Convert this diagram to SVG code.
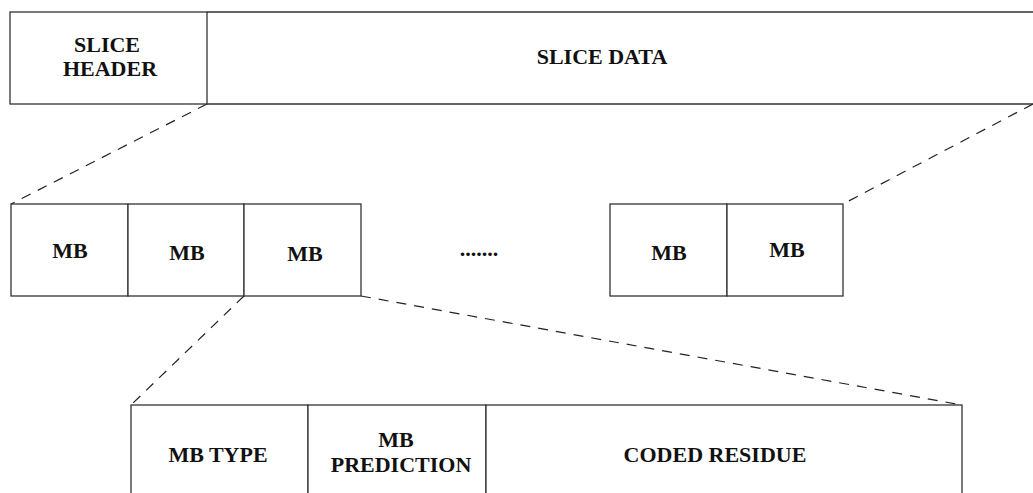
<svg xmlns="http://www.w3.org/2000/svg" width="1033" height="493" viewBox="0 0 1033 493">
  <style>
    .box { fill: #ffffff; stroke: #333333; stroke-width: 1.3; }
    .div { stroke: #333333; stroke-width: 1.3; }
    .lbl { font-family: "Liberation Serif", "Times New Roman", serif; font-weight: bold; font-size: 22px; fill: #111111; text-anchor: middle; }
    .dash { fill: none; stroke: #222222; stroke-width: 1.2; stroke-dasharray: 10 8; }
  </style>
  <rect width="1033" height="493" fill="#ffffff"/>

  <!-- connectors -->
  <g id="connectors">
    <line class="dash" x1="207" y1="104" x2="11" y2="204"/>
    <line class="dash" x1="1033" y1="104" x2="843" y2="204"/>
    <line class="dash" x1="244" y1="296" x2="131" y2="405"/>
    <line class="dash" x1="361" y1="296" x2="962" y2="405"/>
  </g>

  <!-- slice -->
  <g id="slice-header">
    <rect class="box" x="10" y="12" width="197" height="92"/>
    <text class="lbl" x="107" y="52">SLICE</text>
    <text class="lbl" x="110" y="76">HEADER</text>
  </g>
  <g id="slice-data">
    <path class="div" d="M207 12 H1034 M207 104 H1034" fill="none"/>
    <text class="lbl" x="602" y="64">SLICE DATA</text>
  </g>

  <!-- macroblocks -->
  <g id="mb-1">
    <rect class="box" x="11" y="204" width="117" height="92"/>
    <text class="lbl" x="70" y="258">MB</text>
  </g>
  <g id="mb-2">
    <rect class="box" x="128" y="204" width="116" height="92"/>
    <text class="lbl" x="187" y="260">MB</text>
  </g>
  <g id="mb-3">
    <rect class="box" x="244" y="204" width="117" height="92"/>
    <text class="lbl" x="305" y="261">MB</text>
  </g>
  <g id="ellipsis">
    <text class="lbl" x="479" y="256">.......</text>
  </g>
  <g id="mb-n1">
    <rect class="box" x="610" y="204" width="117" height="92"/>
    <text class="lbl" x="669" y="260">MB</text>
  </g>
  <g id="mb-n">
    <rect class="box" x="727" y="204" width="116" height="92"/>
    <text class="lbl" x="787" y="257">MB</text>
  </g>

  <!-- macroblock syntax -->
  <g id="mb-type">
    <rect class="box" x="131" y="405" width="177" height="100"/>
    <text class="lbl" x="218" y="462">MB TYPE</text>
  </g>
  <g id="mb-prediction">
    <rect class="box" x="308" y="405" width="178" height="100"/>
    <text class="lbl" x="396" y="447">MB</text>
    <text class="lbl" x="401" y="472">PREDICTION</text>
  </g>
  <g id="coded-residue">
    <rect class="box" x="486" y="405" width="476" height="100"/>
    <text class="lbl" x="715" y="462">CODED RESIDUE</text>
  </g>
</svg>
